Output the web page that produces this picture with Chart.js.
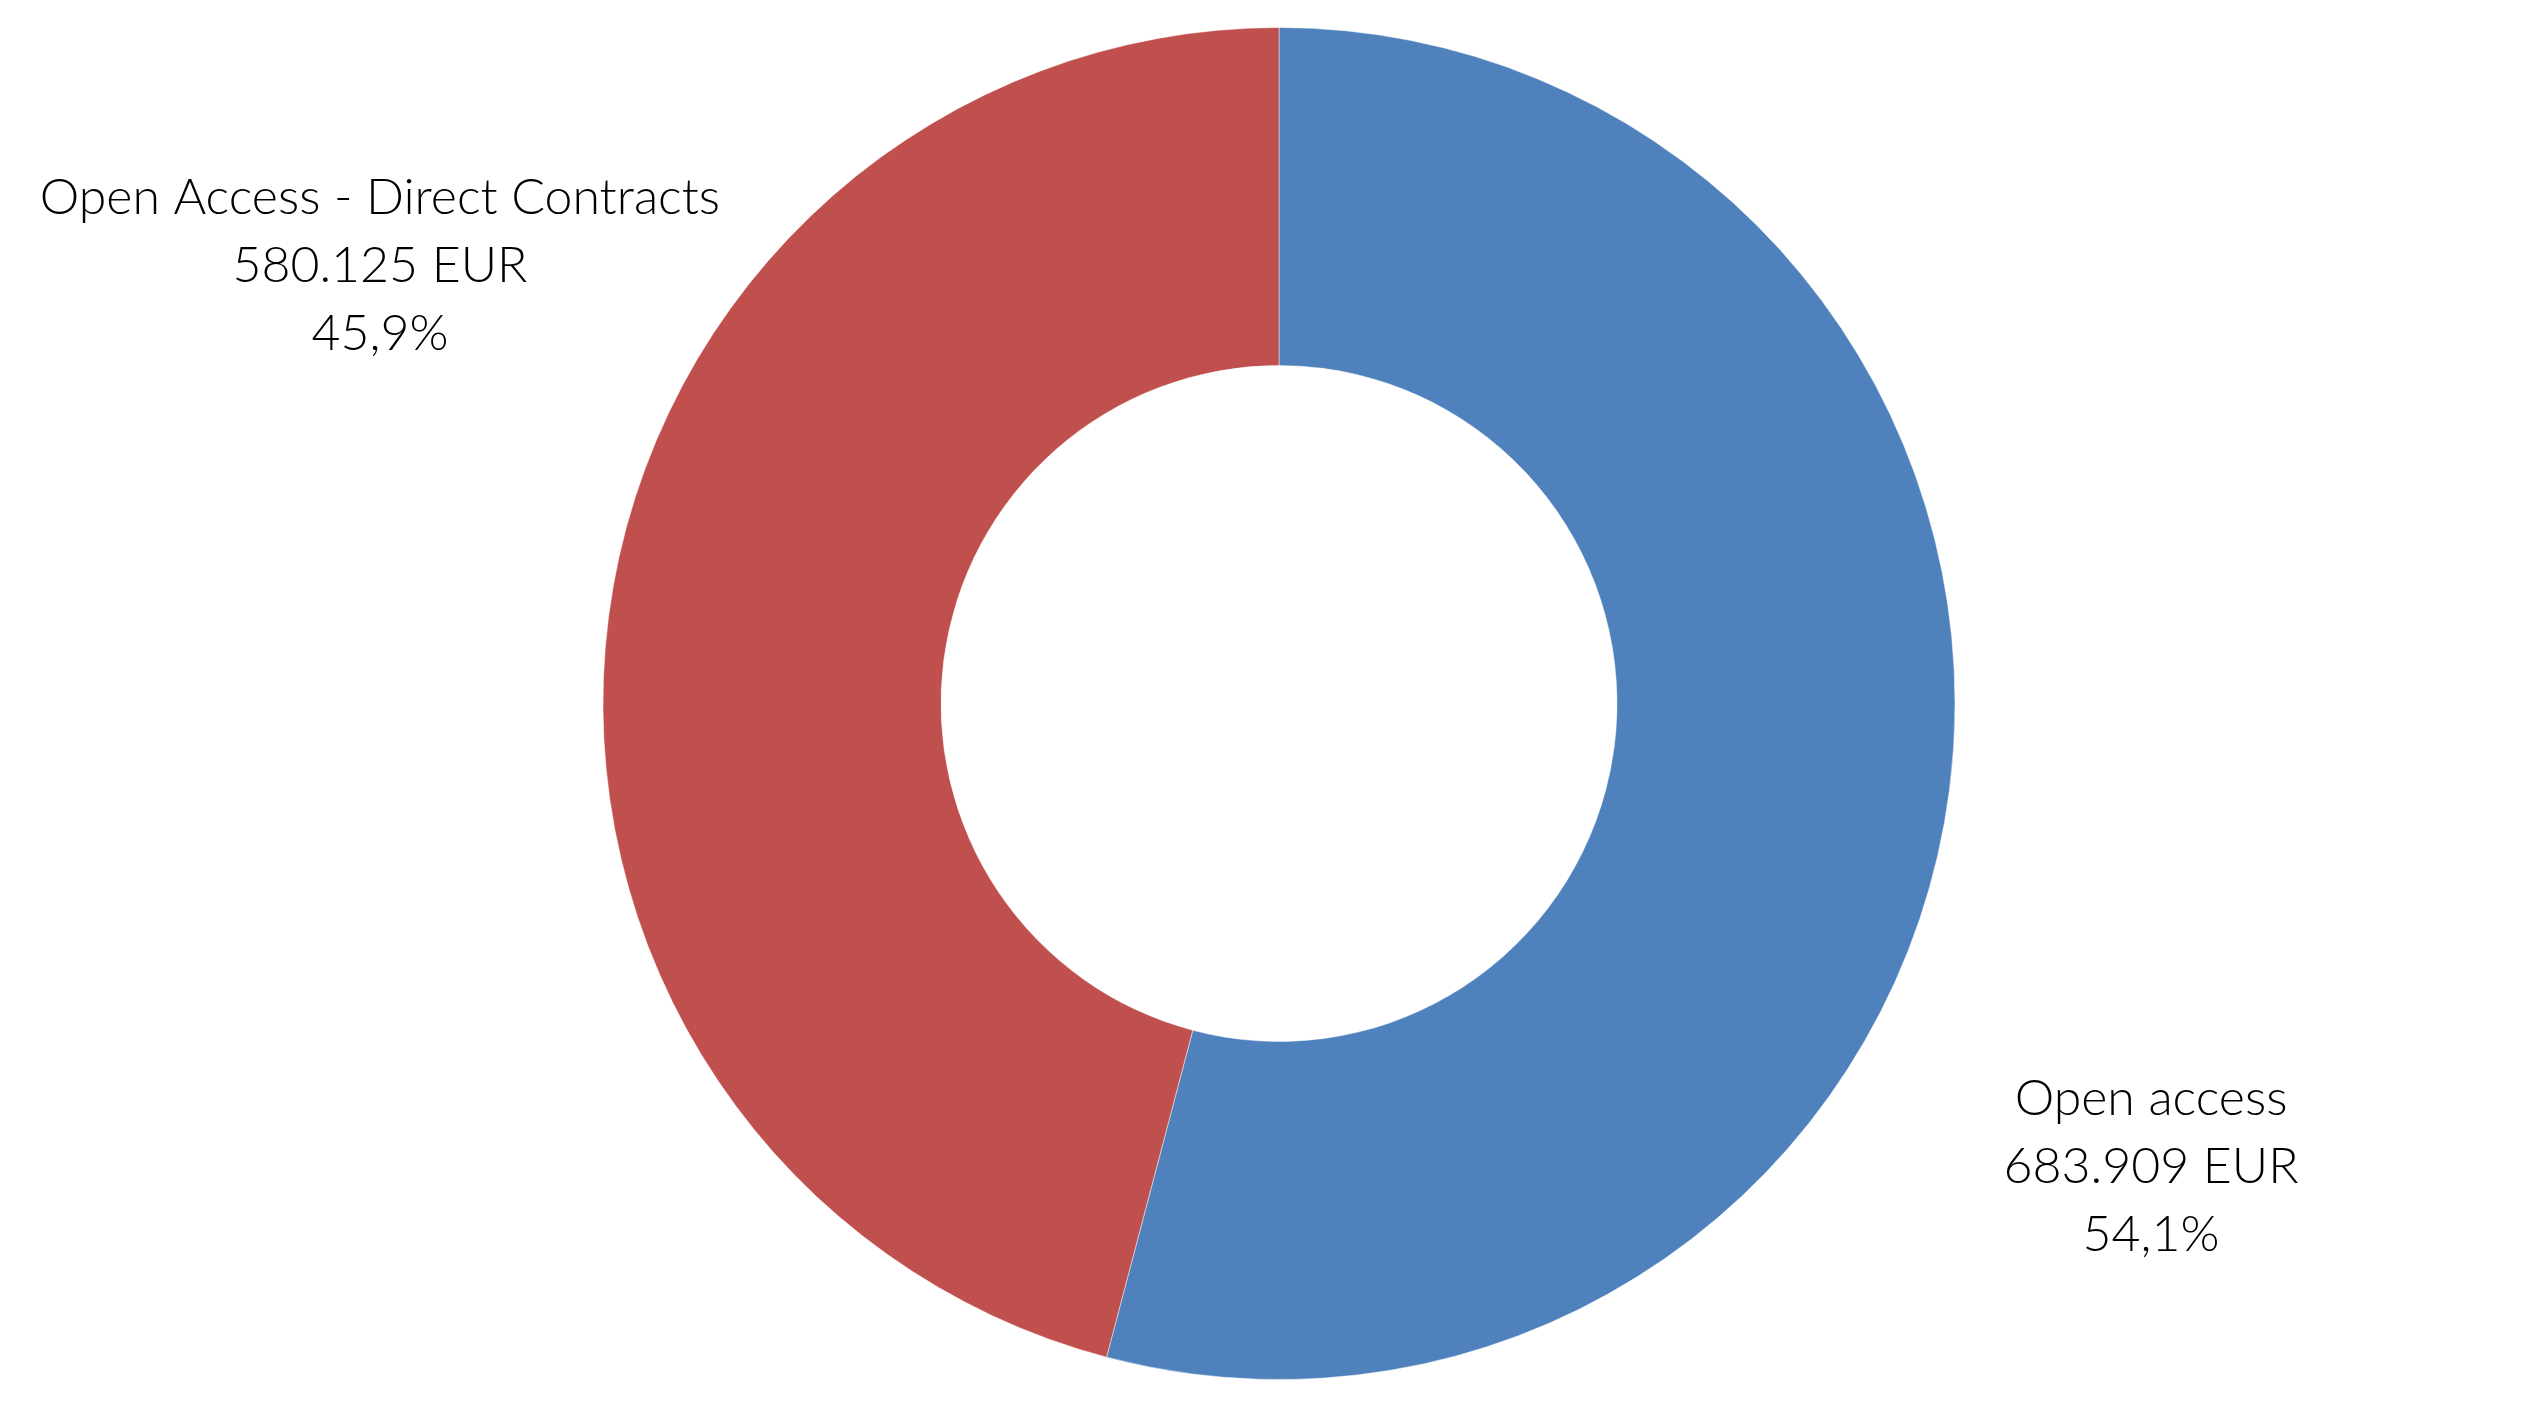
<!DOCTYPE html>
<html>
<head>
<meta charset="utf-8">
<script src="https://cdn.jsdelivr.net/npm/chart.js@4.4.1/dist/chart.umd.min.js"></script>
<style>
  html, body { margin: 0; padding: 0; background: #fff; }
  canvas { display: block; }
</style>
</head>
<body>
<canvas id="donut" width="2541" height="1414"></canvas>
<script>
// data
const categories = ['Open access', 'Open Access - Direct Contracts'];
const amounts = [683909, 580125];
const amountLabels = ['683.909 EUR', '580.125 EUR'];
const percentLabels = ['54,1%', '45,9%'];

const sliceColors = ['#4F81BD', '#C0504D'];

// label placement, in units of the outer radius, measured from the centre
const labelOffsets = [
    { dx: 1.29, dy: 0.685 },
    { dx: -1.33, dy: -0.647 },
];

const outsideLabels = {
    id: 'outsideLabels',
    afterDatasetsDraw(chart) {
        const ctx = chart.ctx;
        const meta = chart.getDatasetMeta(0);
        ctx.save();
        ctx.font = '300 50px Lato, "Open Sans", sans-serif';
        ctx.fillStyle = '#000';
        ctx.textAlign = 'center';
        ctx.textBaseline = 'middle';
        const lineGap = 68;
        meta.data.forEach((arc, i) => {
            const cx = arc.x + labelOffsets[i].dx * arc.outerRadius;
            const cy = arc.y + labelOffsets[i].dy * arc.outerRadius;
            const lines = [categories[i], amountLabels[i], percentLabels[i]];
            lines.forEach((t, k) => ctx.fillText(t, cx, cy + (k - 1) * lineGap));
        });
        ctx.restore();
    }
};

new Chart(document.getElementById('donut'), {
    type: 'doughnut',
    data: {
        labels: categories,
        datasets: [{
            data: amounts,
            backgroundColor: sliceColors,
            borderColor: 'rgba(255,255,255,0.45)',
            borderWidth: 1,
            hoverOffset: 0,
        }]
    },
    options: {
        responsive: false,
        animation: false,
        cutout: '50%',
        rotation: 0,
        layout: { padding: { top: 27, bottom: 34, left: 17, right: 0 } },
        plugins: {
            legend: { display: false },
            tooltip: { enabled: false },
        }
    },
    plugins: [outsideLabels]
});
</script>
</body>
</html>
